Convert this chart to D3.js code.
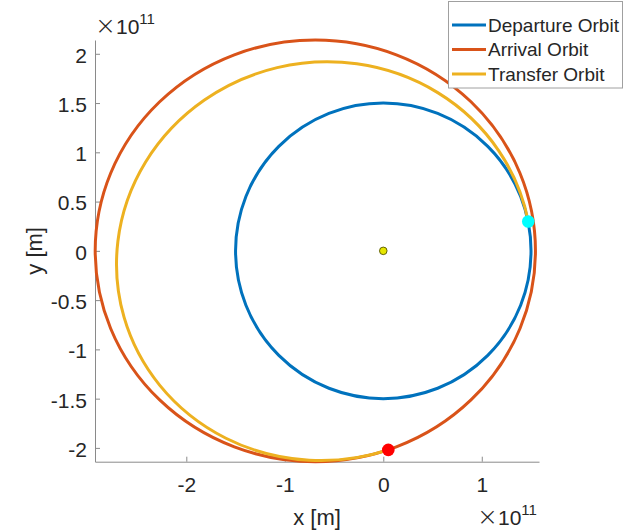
<!DOCTYPE html>
<html><head><meta charset="utf-8">
<script src="https://cdn.jsdelivr.net/npm/d3@7"></script>
<style>
body{margin:0;background:#fff}
svg{display:block}
text{font-family:"Liberation Sans",Arial,Helvetica,sans-serif;fill:#262626}
</style>
</head><body>
<svg id="c" width="637" height="530"></svg>
<script>
// ---- data (units of 1e11 m) ----
const seriesNames = ["Departure Orbit", "Arrival Orbit", "Transfer Orbit"];
const seriesColors = ["#0072BD", "#D95319", "#EDB120"];
// orbit ellipses: centre x, centre y, semi-axis a, semi-axis b, rotation (deg, counter-clockwise)
const orbitCx  = [0, -0.69, -0.602];
const orbitCy  = [0, 0, -0.107];
const orbitRa  = [1.5, 2.235, 2.111];
const orbitRb  = [1.5, 2.14, 2.021];
const orbitRot = [0, 0, 10.1];
const transferStart = [1.472, 0.298];   // departure point (cyan)
const transferEnd   = [0.051, -2.02];   // arrival point (red)
const sunPos = [0, 0];
const xDomain = [-2.927, 1.581];
const yDomain = [-2.14, 2.14];
const xTickValues = [-2, -1, 0, 1];
const yTickValues = [-2, -1.5, -1, -0.5, 0, 0.5, 1, 1.5, 2];
const exponentText = "11";
const xLabel = "x [m]";
const yLabel = "y [m]";

// ---- layout ----
const L = 95, R = 539, T = 40, B = 461.7;
const svg = d3.select("#c");
const x = d3.scaleLinear().domain(xDomain).range([L, R]);
const y = d3.scaleLinear().domain(yDomain).range([B, T]);
const fmt = d => String(d).replace("\u2212", "-");

// axes
const axisColor = "#8a8a8a";
const gx = svg.append("g").attr("transform", `translate(0,${B})`)
  .call(d3.axisBottom(x).tickValues(xTickValues).tickSizeInner(-5).tickSizeOuter(0).tickPadding(15).tickFormat(fmt));
const gy = svg.append("g").attr("transform", `translate(${L},0)`)
  .call(d3.axisLeft(y).tickValues(yTickValues).tickSizeInner(-5).tickSizeOuter(0).tickPadding(8).tickFormat(fmt));
[gx, gy].forEach(g => {
  g.select(".domain").attr("stroke", axisColor).attr("stroke-width", 1);
  g.selectAll(".tick line").attr("stroke", axisColor);
  g.selectAll(".tick text").attr("fill", "#262626").style("font-size", "21px")
    .style("font-family", '"Liberation Sans", Arial, sans-serif');
});
gy.selectAll(".tick text").attr("dy", "0.4em");

// orbits
const sx = (x(1) - x(0)), sy = (y(0) - y(1));
[0, 1].forEach(i => {
  svg.append("ellipse")
    .attr("cx", x(orbitCx[i])).attr("cy", y(orbitCy[i]))
    .attr("rx", orbitRa[i] * sx).attr("ry", orbitRb[i] * sy)
    .attr("transform", `rotate(${-orbitRot[i]},${x(orbitCx[i])},${y(orbitCy[i])})`)
    .attr("fill", "none").attr("stroke", seriesColors[i]).attr("stroke-width", 3);
});
// transfer arc (counter-clockwise from departure to arrival point)
const ti = 2;
const arcPath = `M${x(transferStart[0])},${y(transferStart[1])}` +
  `A${orbitRa[ti] * sx},${orbitRb[ti] * sy} ${-orbitRot[ti]} 1 0 ${x(transferEnd[0])},${y(transferEnd[1])}`;
svg.append("path").attr("d", arcPath).attr("fill", "none")
  .attr("stroke", seriesColors[ti]).attr("stroke-width", 3);

// markers
svg.append("circle").attr("cx", x(sunPos[0])).attr("cy", y(sunPos[1])).attr("r", 3.8)
  .attr("fill", "#e6e600").attr("stroke", "#555500").attr("stroke-width", 0.9);
svg.append("circle").attr("cx", x(transferStart[0])).attr("cy", y(transferStart[1])).attr("r", 6.3)
  .attr("fill", "#00FFFF");
svg.append("circle").attr("cx", x(transferEnd[0])).attr("cy", y(transferEnd[1])).attr("r", 6.3)
  .attr("fill", "#FF0000");

// exponent labels
function expLabel(px, py) {
  const t = svg.append("text").attr("x", px).attr("y", py).style("font-size", "21px");
  t.append("tspan").style("font-size", "25px").style("font-family", '"DejaVu Sans", sans-serif')
    .style("font-weight", "200").text("\u00d7");
  t.append("tspan").text("10");
  t.append("tspan").attr("dy", -10).style("font-size", "15px").text(exponentText);
}
expLabel(95, 33.5);
expLabel(477, 524.5);

// axis labels
svg.append("text").attr("x", (L + R) / 2).attr("y", 524.5).attr("text-anchor", "middle")
  .style("font-size", "22px").text(xLabel);
svg.append("text").attr("transform", `translate(42,${(T + B) / 2}) rotate(-90)`)
  .attr("text-anchor", "middle").style("font-size", "22px").text(yLabel);

// legend
const lg = svg.append("g");
lg.append("rect").attr("x", 448.5).attr("y", 1.5).attr("width", 174).attr("height", 86.5)
  .attr("fill", "#fff").attr("stroke", "#a0a0a0").attr("stroke-width", 1);
const rowY = d3.scalePoint().domain(seriesNames).range([25, 74]);
seriesNames.forEach((n, i) => {
  lg.append("line").attr("x1", 452).attr("x2", 486).attr("y1", rowY(n)).attr("y2", rowY(n))
    .attr("stroke", seriesColors[i]).attr("stroke-width", 3);
  lg.append("text").attr("x", 488).attr("y", rowY(n)).attr("dy", "0.36em")
    .style("font-size", "19px").text(n);
});
</script>
</body></html>
